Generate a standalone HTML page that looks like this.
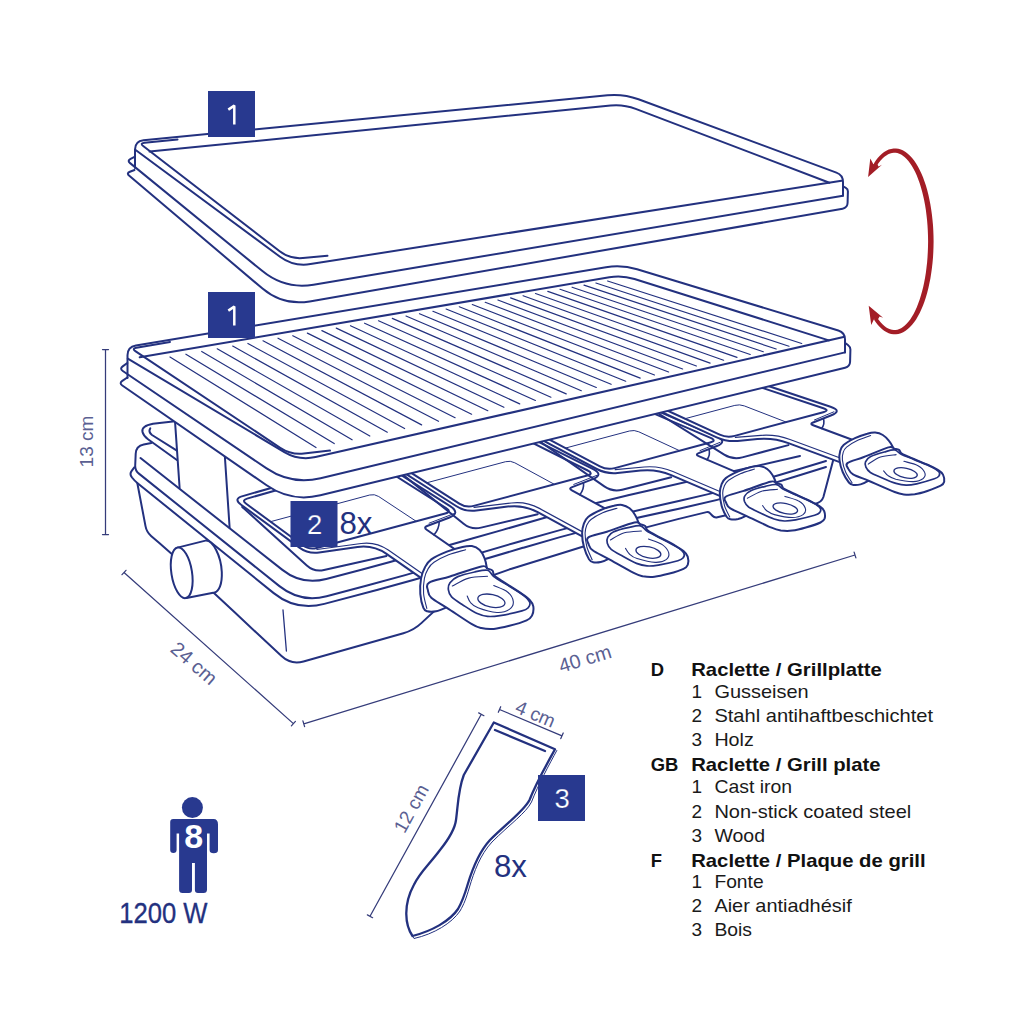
<!DOCTYPE html>
<html><head><meta charset="utf-8"><title>Raclette</title>
<style>
html,body{margin:0;padding:0;background:#fff;}
body{width:1024px;height:1024px;overflow:hidden;font-family:"Liberation Sans",sans-serif;}
svg{display:block;}
text{font-family:"Liberation Sans",sans-serif;}
</style></head><body>
<svg width="1024" height="1024" viewBox="0 0 1024 1024">
<rect x="0" y="0" width="1024" height="1024" fill="#ffffff"/>
<path d="M175,421.3 L153,423.7 Q141,426 142.5,432 Q143.5,436 148,439.2 L176.9,460" fill="none" stroke="#23317f" stroke-width="2.0" stroke-linecap="round" stroke-linejoin="round" />
<path d="M150.3,428.3 Q148,432 152,435 L176.9,450.6" fill="none" stroke="#23317f" stroke-width="2.0" stroke-linecap="round" stroke-linejoin="round" />
<path d="M175,421.3 L179.6,487.7" fill="none" stroke="#23317f" stroke-width="2.0" stroke-linecap="round" stroke-linejoin="round" />
<path d="M224.3,448 L229.6,527.5" fill="none" stroke="#23317f" stroke-width="2.0" stroke-linecap="round" stroke-linejoin="round" />
<path d="M140.5,458L282.4,569.9Q302,585.4 326.2,579L361.4,569.8Q389,562.5 416.4,554.5L416.4,554.5Q443.8,546.5 471.3,538.7L502.7,529.9Q534,521 565.2,511.8L565.2,511.8Q596.4,502.5 628.1,495.2L650,490.2Q700,478.8 750,467.4L800,456" fill="none" stroke="#23317f" stroke-width="2.0" stroke-linecap="round" stroke-linejoin="round" />
<path d="M151.4,443L143.7,444.5Q136,446 135.7,453.8L135.2,465.5Q135,470.5 138.9,473.6L279.4,586.1Q300.5,603 326.6,596.2L367.1,585.5Q406.5,575.2 445.4,563.4L446.7,563Q484.4,551.6 522.2,540.7L522.2,540.7Q560,529.7 598.2,520.1L600.7,519.4Q637.4,510.2 674.3,502L680.9,500.5Q711.3,493.8 741.3,485.6L743.9,485Q771.4,477.5 798.7,469.2L826,461" fill="none" stroke="#23317f" stroke-width="2.0" stroke-linecap="round" stroke-linejoin="round" />
<path d="M134.3,467.3L131.7,470.8Q129.3,474 131.8,477.2L132,477.5Q134.5,480.7 137.6,483.2L273.7,593.1Q296.3,611.3 324.3,603.9L377.8,589.7Q414.3,580 450.5,569.3L450.5,569.3Q486.7,558.6 522.9,547.8L523.4,547.7Q560,536.7 597.1,527.4L600.2,526.7Q638.8,517 677.8,508.9L688.7,506.6Q716.7,500.7 744,492.4L744.1,492.3Q771.4,484 798.7,475.5L826,467" fill="none" stroke="#23317f" stroke-width="2.0" stroke-linecap="round" stroke-linejoin="round" />
<path d="M137.4,483.5L145.5,526.1Q146.6,532 151.1,535.9L159.3,543Q172,554 184.3,565.4L193,573.5Q214,593 234.9,612.6L281.5,656.1Q291,665 303.5,661.5L403.4,633.2Q414,630.2 421.9,622.6L424,620.6Q434,611 444.8,602.3L447,600.5Q460,590 475.1,582.9L476.9,582.1Q493.8,574.2 511.6,568.7L526.9,564Q560,553.9 593,543.5L616.8,536.1Q647,526.6 677.8,519.1L706.6,512.1Q708.5,511.6 709.9,513.1L712.4,515.8Q714.5,518 717.4,517.3L740,512" fill="none" stroke="#23317f" stroke-width="2.0" stroke-linecap="round" stroke-linejoin="round" />
<path d="M283,610 L286.4,651" fill="none" stroke="#23317f" stroke-width="1.3" stroke-linecap="round" stroke-linejoin="round" />
<path d="M833.5,459 L823.4,497 Q821.5,503 814,504 L790,508" fill="none" stroke="#23317f" stroke-width="2.0" stroke-linecap="round" stroke-linejoin="round" />
<path d="M177.5,547.6 L205.5,540.6 C213,540 221,556 221.8,572 C222.3,584 219,591.5 214.5,592.5 L186.5,598 Z" fill="#fff" stroke="#23317f" stroke-width="2.0" stroke-linejoin="round"/>
<ellipse cx="181.7" cy="572.8" rx="10.3" ry="25.6" transform="rotate(-9 181.7 572.8)" fill="#fff" stroke="#23317f" stroke-width="2.0"/>
<path d="M242.2,506.9L306.8,565.4Q314.2,572.1 324,569.9L386.5,555.9" fill="none" stroke="#23317f" stroke-width="2.0" stroke-linecap="round" stroke-linejoin="round" />
<path d="M374.9,458.4L242.7,496.1Q233,498.8 241.1,504.7L299.4,547.6Q308.2,554.1 319.1,552.5L357.5,547Q373.4,544.8 386.5,553.9L434.9,587.6Q434.9,587.6 434.9,587.6L472.7,561.6Q472.7,561.6 472.7,561.6L426.7,529.7Q423.4,527.4 427.1,526L448.9,517.7Q461.1,513.1 450.1,506.1L374.9,458.4Z" fill="#fff" stroke="none"/>
<path d="M374.9,458.4L242.7,496.1Q233,498.8 241.1,504.7L299.4,547.6Q308.2,554.1 319.1,552.5L357.5,547Q373.4,544.8 386.5,553.9L434.9,587.6Q434.9,587.6 434.9,587.6L472.7,561.6Q472.7,561.6 472.7,561.6L426.7,529.7Q423.4,527.4 427.1,526L448.9,517.7Q461.1,513.1 450.1,506.1L374.9,458.4" fill="none" stroke="#23317f" stroke-width="2.0" stroke-linecap="round" stroke-linejoin="round" />
<path d="M374.3,462.4L247.1,498.6Q241.3,500.3 246.2,503.8L302.6,545.3Q309,550 316.7,548L445.2,513.5Q452,511.7 446.1,508L374.3,462.4" fill="none" stroke="#23317f" stroke-width="2.0" stroke-linecap="round" stroke-linejoin="round" />
<path d="M316.9,549.5L361.1,543.5Q376,541.5 388.3,550.1L437.5,584.3" fill="none" stroke="#23317f" stroke-width="1.2" stroke-linecap="round" stroke-linejoin="round" />
<path d="M439.2,521.7 Q439.2,528.7 434.1,534.8" fill="none" stroke="#23317f" stroke-width="1.6" stroke-linecap="round" stroke-linejoin="round" />
<path d="M454,513.6 L429.1,523.2" fill="none" stroke="#23317f" stroke-width="1.0" stroke-linecap="round" stroke-linejoin="round" />
<path d="M270.4,521.7L369.7,495Q374.5,493.8 378.7,496.5L416.2,521.3" fill="none" stroke="#23317f" stroke-width="1.0" stroke-linecap="round" stroke-linejoin="round" />
<path d="M394.4,467.9L463.6,523.7Q471.4,530 481.1,527.6L537.7,514.2" fill="none" stroke="#23317f" stroke-width="2.0" stroke-linecap="round" stroke-linejoin="round" />
<path d="M518.5,431.8L394.6,458.3Q384.8,460.4 393.3,465.8L456.1,506Q465.4,512 476.3,510.6L507.7,506.6Q523.6,504.5 537.7,512.2L589.5,540.4Q589.5,540.4 589.5,540.4L621.1,517.2Q621.1,517.2 621.1,517.2L571.9,490.4Q568.4,488.5 572.1,487.1L592.2,479.4Q604.4,474.7 592.7,468.9L518.5,431.8Z" fill="#fff" stroke="none"/>
<path d="M518.5,431.8L394.6,458.3Q384.8,460.4 393.3,465.8L456.1,506Q465.4,512 476.3,510.6L507.7,506.6Q523.6,504.5 537.7,512.2L589.5,540.4Q589.5,540.4 589.5,540.4L621.1,517.2Q621.1,517.2 621.1,517.2L571.9,490.4Q568.4,488.5 572.1,487.1L592.2,479.4Q604.4,474.7 592.7,468.9L518.5,431.8" fill="none" stroke="#23317f" stroke-width="2.0" stroke-linecap="round" stroke-linejoin="round" />
<path d="M518,435.6L400.3,460.9Q394.4,462.1 399.5,465.4L459.3,503.6Q466,508 473.7,505.9L587.2,475.5Q594,473.7 587.7,470.5L518,435.6" fill="none" stroke="#23317f" stroke-width="2.0" stroke-linecap="round" stroke-linejoin="round" />
<path d="M474.1,507.4L511.3,503Q526.2,501.2 539.4,508.4L592.1,537.1" fill="none" stroke="#23317f" stroke-width="1.2" stroke-linecap="round" stroke-linejoin="round" />
<path d="M583.5,483 Q584.2,489.4 579.8,494.7" fill="none" stroke="#23317f" stroke-width="1.6" stroke-linecap="round" stroke-linejoin="round" />
<path d="M596.7,475.4 L573.8,484.4" fill="none" stroke="#23317f" stroke-width="1.0" stroke-linecap="round" stroke-linejoin="round" />
<path d="M426.7,482.8L505.6,461.7Q510.4,460.4 514.8,462.8L554.3,484.3" fill="none" stroke="#23317f" stroke-width="1.0" stroke-linecap="round" stroke-linejoin="round" />
<path d="M531.3,435.5L604.3,486.4Q612.6,492.1 622.2,489.7L671.2,477.2" fill="none" stroke="#23317f" stroke-width="2.0" stroke-linecap="round" stroke-linejoin="round" />
<path d="M639.3,403.2L531,426.8Q521.2,428.9 530.1,433.6L596.8,469Q606.6,474.1 617.5,473L640.6,470.6Q656.5,468.9 671.2,475.2L725.5,498.3Q725.5,498.3 725.5,498.3L750.2,478.1Q750.2,478.1 750.2,478.1L698.7,456.2Q695,454.6 698.7,453.1L716.2,446.3Q728.3,441.5 716.3,436.4L639.3,403.2Z" fill="#fff" stroke="none"/>
<path d="M639.3,403.2L531,426.8Q521.2,428.9 530.1,433.6L596.8,469Q606.6,474.1 617.5,473L640.6,470.6Q656.5,468.9 671.2,475.2L725.5,498.3Q725.5,498.3 725.5,498.3L750.2,478.1Q750.2,478.1 750.2,478.1L698.7,456.2Q695,454.6 698.7,453.1L716.2,446.3Q728.3,441.5 716.3,436.4L639.3,403.2" fill="none" stroke="#23317f" stroke-width="2.0" stroke-linecap="round" stroke-linejoin="round" />
<path d="M638.9,407.1L537.8,429.1Q531.9,430.4 537.2,433.2L599.9,466.4Q607,470.2 614.7,468.1L710.2,442.5Q717,440.7 710.6,437.9L638.9,407.1" fill="none" stroke="#23317f" stroke-width="2.0" stroke-linecap="round" stroke-linejoin="round" />
<path d="M615.2,469.6L644.2,467Q659.1,465.6 672.9,471.5L728.1,495" fill="none" stroke="#23317f" stroke-width="1.2" stroke-linecap="round" stroke-linejoin="round" />
<path d="M709,449.4 Q710.5,455 707,459.7" fill="none" stroke="#23317f" stroke-width="1.6" stroke-linecap="round" stroke-linejoin="round" />
<path d="M720.1,442.3 L700,450.6" fill="none" stroke="#23317f" stroke-width="1.0" stroke-linecap="round" stroke-linejoin="round" />
<path d="M565.4,448.1L629.4,431Q634.2,429.7 638.8,431.8L679.6,450.7" fill="none" stroke="#23317f" stroke-width="1.0" stroke-linecap="round" stroke-linejoin="round" />
<path d="M648.1,407L724.2,454.6Q732.7,459.9 742.3,457.4L788.4,445.1" fill="none" stroke="#23317f" stroke-width="2.0" stroke-linecap="round" stroke-linejoin="round" />
<path d="M749.6,379.7L647.5,399.2Q637.7,401 646.8,405.2L716.7,437.3Q726.7,441.9 737.6,440.9L757.4,439.1Q773.4,437.6 788.4,443.1L843.7,463.6Q843.7,463.6 843.7,463.6L865.7,444.7Q865.7,444.7 865.7,444.7L813.2,425.3Q809.4,423.9 813.1,422.5L830.8,415.5Q842.9,410.8 830.5,406.7L749.6,379.7Z" fill="#fff" stroke="none"/>
<path d="M749.6,379.7L647.5,399.2Q637.7,401 646.8,405.2L716.7,437.3Q726.7,441.9 737.6,440.9L757.4,439.1Q773.4,437.6 788.4,443.1L843.7,463.6Q843.7,463.6 843.7,463.6L865.7,444.7Q865.7,444.7 865.7,444.7L813.2,425.3Q809.4,423.9 813.1,422.5L830.8,415.5Q842.9,410.8 830.5,406.7L749.6,379.7" fill="none" stroke="#23317f" stroke-width="2.0" stroke-linecap="round" stroke-linejoin="round" />
<path d="M749.4,383.6L655.7,401.4Q649.8,402.5 655.2,405L719.7,434.7Q727,438 734.7,435.9L823.2,412.2Q830,410.4 823.4,408.2L749.4,383.6" fill="none" stroke="#23317f" stroke-width="2.0" stroke-linecap="round" stroke-linejoin="round" />
<path d="M735.4,437.4L761,435.4Q776,434.3 790,439.5L846.3,460.3" fill="none" stroke="#23317f" stroke-width="1.2" stroke-linecap="round" stroke-linejoin="round" />
<path d="M823.5,418.7 Q825,424.1 821.6,428.4" fill="none" stroke="#23317f" stroke-width="1.6" stroke-linecap="round" stroke-linejoin="round" />
<path d="M833.9,411.8 L814.4,420" fill="none" stroke="#23317f" stroke-width="1.0" stroke-linecap="round" stroke-linejoin="round" />
<path d="M685,418.7L734.8,405.4Q739.6,404.1 744.3,405.9L786.2,422.1" fill="none" stroke="#23317f" stroke-width="1.0" stroke-linecap="round" stroke-linejoin="round" />
<path d="M135,168L135,149.6Q135,141.1 143.5,140.2L607.5,95.3Q623.5,93.8 638.5,99.3L836.4,172.6Q843,175 843,182L843,195.7" fill="none" stroke="#23317f" stroke-width="2.0" stroke-linecap="round" stroke-linejoin="round" />
<path d="M135.3,149.8L280,256.7Q293.7,266.8 310.5,264.1L841.5,180.8" fill="none" stroke="#23317f" stroke-width="2.0" stroke-linecap="round" stroke-linejoin="round" />
<path d="M177.5,139.4L144.5,142.7Q139.5,143.2 143.5,146.3L279.7,251.3Q290,259.2 302.9,258L327.5,255.8" fill="none" stroke="#23317f" stroke-width="2.0" stroke-linecap="round" stroke-linejoin="round" />
<path d="M149.6,151.6L610.6,105.5Q623.5,104.2 635.7,108.9L829.4,182.7" fill="none" stroke="#23317f" stroke-width="2.0" stroke-linecap="round" stroke-linejoin="round" />
<path d="M134.5,156.8L130.6,158.8Q127,160.6 130.1,163.1L262.4,271.1Q284.9,289.5 313.5,284.7L843,195.7" fill="none" stroke="#23317f" stroke-width="2.0" stroke-linecap="round" stroke-linejoin="round" />
<path d="M134.5,170L129.9,171.8Q126.2,173.2 129.3,175.8L262.5,288.6Q283.1,306 309.7,301.4L842.6,208.7Q847.5,207.8 847.6,202.8L847.9,191.6Q848,189 845.8,187.8L843.5,186.5" fill="none" stroke="#23317f" stroke-width="2.0" stroke-linecap="round" stroke-linejoin="round" />
<path d="M121.5,384.9Q119,383.2 119.7,380.3L126,353.2Q127.5,346.8 133.9,345.8L606,267.2Q621.8,264.6 637.1,269.3L838.3,330.5Q845,332.5 846,339.4L849.3,361.6Q850,366.5 845.1,367.7L320.4,495.3Q291.3,502.4 266.6,485.3Z" fill="#fff" stroke="none"/>
<path d="M127.5,378L127.5,355.3Q127.5,346.8 135.9,345.4L606,267.2Q621.8,264.6 637.1,269.3L838.3,330.5Q845,332.5 845,339.5L845,352.4" fill="none" stroke="#23317f" stroke-width="2.0" stroke-linecap="round" stroke-linejoin="round" />
<path d="M127.8,358.7L284.3,452.1Q298.9,460.8 315.5,457.1L843.5,337.1" fill="none" stroke="#23317f" stroke-width="2.0" stroke-linecap="round" stroke-linejoin="round" />
<path d="M170,342L136.4,347.7Q131.5,348.5 135.7,351.3L280.2,447.8Q291,455 303.9,453.5L330,450.6" fill="none" stroke="#23317f" stroke-width="2.0" stroke-linecap="round" stroke-linejoin="round" />
<path d="M139.7,357.3L609.3,277.2Q622.1,275 634.5,279L828.8,340.4" fill="none" stroke="#23317f" stroke-width="2.0" stroke-linecap="round" stroke-linejoin="round" />
<path d="M127.3,363L122.7,366.4Q119.5,368.8 122.8,371L266.6,468.4Q291.5,485.2 320.6,478.2L845,352.4" fill="none" stroke="#23317f" stroke-width="2.0" stroke-linecap="round" stroke-linejoin="round" />
<path d="M127.3,377.5L122.3,380.9Q119,383.2 122.3,385.5L266.6,485.3Q291.3,502.4 320.4,495.3L845.1,367.7Q850,366.5 850.1,361.5L850.4,349.8Q850.5,347 848.2,345.2L846,343.5" fill="none" stroke="#23317f" stroke-width="2.0" stroke-linecap="round" stroke-linejoin="round" />
<path d="M170,357L316,447.5M185.9,354.2L334.2,443.6M201.7,351.5L352.1,439.8M217.2,348.8L369.8,436M232.7,346.1L387.3,432.2M247.9,343.5L404.6,428.5M263,340.8L421.6,424.9M278,338.2L438.5,421.3M292.8,335.7L455.1,417.7M307.4,333.1L471.6,414.2M321.9,330.6L487.8,410.7M336.3,328.1L503.9,407.3M350.5,325.7L519.7,403.9M364.6,323.2L535.4,400.5M378.5,320.8L550.9,397.2M392.3,318.4L566.2,393.9M406,316L581.3,390.7M419.5,313.7L596.3,387.5M432.9,311.3L611.1,384.3M446.1,309L625.7,381.2M459.3,306.8L640.2,378.1M472.3,304.5L654.5,375M485.2,302.3L668.6,372M497.9,300L682.6,369M510.6,297.9L696.4,366M523.1,295.7L710.1,363.1M535.5,293.5L723.6,360.2M547.8,291.4L737,357.4M560,289.3L750.2,354.5M572.1,287.2L763.3,351.7M584,285.1L776.2,349M595.9,283L789,346.2M607.6,281L801.7,343.5" fill="none" stroke="#23317f" stroke-width="1.2" stroke-linecap="round" stroke-linejoin="round" />
<path d="M423.4,607.8C422.2,604.9 420.7,598.8 420.3,593.8C419.9,588.8 420.3,582.5 421.1,578.1C421.9,573.7 423.3,570.3 425,567.2C426.7,564.1 427.7,562 431.3,559.4C434.9,556.8 441.7,553.7 446.9,551.6C452.1,549.5 458.3,547.8 462.5,546.9C466.7,546 469,545.6 471.9,546.1C474.8,546.6 477.6,548 479.7,550C481.8,552 483.2,554.9 484.4,557.8C485.6,560.7 486.2,563.5 486.7,567.2C487.2,570.9 490.3,575.4 487.5,580C484.7,584.6 477,590.4 470,595C463,599.6 451,605.1 445.3,607.8C439.6,610.5 439,610.7 436,611.3C433,611.9 429.4,611.9 427.3,611.3C425.2,610.7 424.6,610.7 423.4,607.8Z" fill="#fff" stroke="#23317f" stroke-width="2.0" stroke-linejoin="round"/>
<path d="M426.8,608.5C426.3,606 424,598.8 423.6,593.8C423.2,588.8 423.6,582.5 424.4,578.3C425.2,574.1 426.6,571.3 428.2,568.6C429.8,565.9 430.6,564.6 434,562.3C437.4,560 443.3,556.9 448.6,554.8C453.9,552.7 462.8,550.6 465.6,549.7" fill="none" stroke="#23317f" stroke-width="1.1" stroke-linecap="round" stroke-linejoin="round" />
<path d="M428.9,582.8C432.6,580.4 441.3,579.2 450,576.5C458.7,573.8 475.1,567.7 481.3,566.4C487.6,565.1 485.6,567.9 487.5,568.6C489.4,569.3 491.4,569.5 492.5,570.6C493.6,571.7 492.8,573.7 494,575.2C495.2,576.7 495.4,576.6 500,579.7C504.6,582.8 516.9,590.4 521.9,593.8C526.9,597.2 527.8,597.9 529.7,600C531.6,602.1 532.9,603.7 533.3,606.3C533.7,608.9 533.1,613.3 532,615.6C530.9,617.9 530.4,618.6 526.6,620.3C522.8,622 514.9,624.4 509.4,625.8C503.9,627.2 498.5,628.5 493.8,628.9C489.1,629.3 485,628.9 481.3,628.1C477.6,627.3 477.6,627.6 471.9,624.2C466.2,620.8 453.7,612.2 446.9,607.8C440.1,603.4 434.4,600.6 431.3,597.7C428.2,594.8 428.4,593.1 428,590.6C427.6,588.1 425.2,585.1 428.9,582.8Z" fill="#fff" stroke="#23317f" stroke-width="2.0" stroke-linejoin="round"/>
<path d="M448.4,589.8C448.1,587.4 448.4,585 450,582.8C451.6,580.6 453.6,578.4 457.8,576.6C462,574.8 470.1,573 475,571.9C479.9,570.8 484.4,569.5 487.5,570.3C490.6,571.1 490.7,574.2 493.8,576.6C496.9,579 501.4,581.3 506.3,584.4C511.2,587.5 519.5,592.3 523.4,595.3C527.3,598.3 528.9,600.2 529.7,602.3C530.5,604.4 529.4,606.4 528.1,607.8C526.8,609.2 526.6,609.6 521.9,610.9C517.2,612.2 505.7,614.7 500,615.6C494.3,616.5 491.4,616.8 487.5,616.4C483.6,616 480.8,615.2 476.6,613.3C472.4,611.3 466.7,607.4 462.5,604.7C458.3,602 454,599.4 451.6,596.9C449.2,594.4 448.7,592.1 448.4,589.8Z" fill="none" stroke="#23317f" stroke-width="1.7" stroke-linecap="round" stroke-linejoin="round" />
<path d="M467.2,596C467.8,597.1 468.7,600.5 470.5,602.5C472.3,604.5 473.6,606.1 478,607.8C482.4,609.5 491.7,612.2 496.9,612.5C502.1,612.8 506.7,611.2 509.4,609.4C512.1,607.6 513.6,604.5 513.3,601.6C513,598.7 511.1,594.9 507.8,592.2C504.6,589.5 496.1,586.7 493.8,585.6" fill="none" stroke="#23317f" stroke-width="1.1" stroke-linecap="round" stroke-linejoin="round" />
<path d="M452.3,586C455.1,584.7 462.9,579.7 468.8,578.1C474.7,576.5 484.4,576.6 487.5,576.3" fill="none" stroke="#23317f" stroke-width="1.1" stroke-linecap="round" stroke-linejoin="round" />
<ellipse cx="491.4" cy="600.8" rx="13.8" ry="6.3" transform="rotate(12 491.4 600.8)" fill="none" stroke="#23317f" stroke-width="1.3"/>
<path d="M589,559.2C587.5,556.7 585.1,551.4 584,547.1C582.8,542.8 582.1,537.3 582.1,533.4C582.1,529.5 582.8,526.6 583.8,523.9C584.8,521.1 585.3,519.3 588.1,517C590.9,514.7 596.4,511.9 600.7,510C605,508.2 610.2,506.6 613.8,505.8C617.3,504.9 619.4,504.5 622,504.9C624.7,505.4 627.4,506.6 629.6,508.2C631.8,509.9 633.6,512.5 635.1,515C636.6,517.5 637.6,519.9 638.7,523.1C639.7,526.3 643.2,530.2 641.5,534.3C639.8,538.3 633.9,543.4 628.4,547.5C622.9,551.6 613.1,556.5 608.5,558.9C603.9,561.4 603.4,561.6 600.8,562.1C598.3,562.6 595,562.7 593.1,562.2C591.1,561.7 590.6,561.7 589,559.2Z" fill="#fff" stroke="#23317f" stroke-width="2.0" stroke-linejoin="round"/>
<path d="M592.2,559.8C591.3,557.6 588.1,551.4 586.9,547C585.7,542.6 585.1,537.2 585.1,533.5C585,529.9 585.9,527.4 586.8,525C587.8,522.7 588.3,521.5 591,519.5C593.6,517.5 598.4,514.7 602.7,512.8C607.1,510.9 614.6,508.9 617,508.2" fill="none" stroke="#23317f" stroke-width="1.1" stroke-linecap="round" stroke-linejoin="round" />
<path d="M588.4,537.4C591.4,535.3 599.3,534.1 606.9,531.7C614.6,529.2 628.7,523.7 634.3,522.5C639.9,521.3 638.5,523.7 640.3,524.3C642.1,524.9 644,525.1 645.2,526C646.3,527 645.8,528.7 647.2,530C648.6,531.3 648.6,531.2 653.4,533.8C658.1,536.5 670.5,543 675.5,545.8C680.5,548.7 681.5,549.4 683.5,551.1C685.6,552.9 687,554.3 687.7,556.6C688.4,558.8 688.5,562.6 687.8,564.7C687.1,566.7 686.7,567.3 683.5,568.8C680.3,570.4 673.3,572.5 668.5,573.8C663.6,575.1 658.8,576.3 654.5,576.7C650.3,577.1 646.4,576.8 642.9,576.2C639.5,575.5 639.5,575.8 633.7,572.9C628,570 615.3,562.7 608.4,558.9C601.6,555.2 596,552.8 592.7,550.3C589.4,547.9 589.4,546.3 588.6,544.2C587.9,542 585.3,539.5 588.4,537.4Z" fill="#fff" stroke="#23317f" stroke-width="2.0" stroke-linejoin="round"/>
<path d="M607.3,543.2C606.7,541.2 606.7,539.1 607.8,537.1C608.9,535.2 610.5,533.3 614.1,531.6C617.7,530 624.9,528.3 629.3,527.4C633.7,526.4 637.5,525.2 640.5,525.8C643.5,526.5 644,529.2 647.2,531.2C650.4,533.2 654.8,535.2 659.8,537.9C664.8,540.5 673.1,544.6 677.1,547.1C681.1,549.7 682.8,551.3 683.8,553.1C684.9,554.9 684.1,556.7 683.1,557.9C682.1,559.2 682,559.5 677.9,560.7C673.7,561.9 663.5,564.2 658.4,565.1C653.2,565.9 650.6,566.2 647,565.9C643.4,565.6 640.6,565 636.5,563.4C632.4,561.7 626.6,558.4 622.4,556C618.1,553.7 613.7,551.5 611.2,549.4C608.7,547.3 607.9,545.3 607.3,543.2Z" fill="none" stroke="#23317f" stroke-width="1.7" stroke-linecap="round" stroke-linejoin="round" />
<path d="M625.5,548.4C626.1,549.4 627.5,552.3 629.4,554C631.3,555.7 632.8,557.2 637.1,558.6C641.3,559.9 650.2,562.2 655.1,562.4C659.9,562.6 663.9,561.2 666.2,559.6C668.4,558 669.3,555.2 668.7,552.7C668,550.2 665.6,546.9 662.3,544.6C658.9,542.3 650.8,540 648.5,539" fill="none" stroke="#23317f" stroke-width="1.1" stroke-linecap="round" stroke-linejoin="round" />
<path d="M610.4,539.9C612.7,538.7 619.3,534.3 624.4,532.8C629.6,531.3 638.6,531.3 641.4,531" fill="none" stroke="#23317f" stroke-width="1.1" stroke-linecap="round" stroke-linejoin="round" />
<ellipse cx="648.4" cy="552.3" rx="12.7" ry="5.5" transform="rotate(12 648.4 552.3)" fill="none" stroke="#23317f" stroke-width="1.3"/>
<path d="M726.6,516.7C725.1,514.4 722.7,509.6 721.6,505.7C720.5,501.8 719.8,496.8 719.8,493.3C719.8,489.8 720.5,487.1 721.5,484.5C722.5,482 723,480.3 725.8,478.1C728.6,475.9 734,473.2 738.3,471.4C742.5,469.5 747.7,467.9 751.2,467C754.8,466.2 756.8,465.8 759.4,466C762,466.3 764.7,467.4 766.9,468.8C769,470.3 770.8,472.6 772.3,474.8C773.7,477 774.7,479.2 775.8,482.1C776.8,485 780.2,488.5 778.5,492.2C776.8,496 771,500.8 765.5,504.8C760.1,508.7 750.4,513.5 745.9,515.8C741.3,518.2 740.8,518.4 738.2,519C735.7,519.5 732.5,519.7 730.6,519.3C728.6,518.9 728.1,518.9 726.6,516.7Z" fill="#fff" stroke="#23317f" stroke-width="2.0" stroke-linejoin="round"/>
<path d="M729.7,517.1C728.8,515.2 725.7,509.6 724.5,505.6C723.4,501.7 722.7,496.7 722.7,493.3C722.7,490 723.6,487.7 724.5,485.5C725.5,483.4 726,482.3 728.6,480.3C731.3,478.4 736,475.7 740.3,473.8C744.6,472 752.1,469.9 754.4,469.1" fill="none" stroke="#23317f" stroke-width="1.1" stroke-linecap="round" stroke-linejoin="round" />
<path d="M725.7,496.7C728.6,494.7 736.3,493.4 743.7,490.9C751.1,488.4 764.9,483 770.3,481.7C775.7,480.4 774.5,482.7 776.3,483.2C778.1,483.7 780,483.8 781.2,484.6C782.3,485.4 781.9,487 783.3,488.2C784.7,489.3 784.8,489.2 789.5,491.5C794.2,493.8 806.7,499.3 811.7,501.8C816.8,504.3 817.8,504.8 819.8,506.4C821.9,507.9 823.4,509.2 824.2,511.2C824.9,513.2 825.2,516.7 824.6,518.6C823.9,520.5 823.6,521 820.5,522.5C817.4,524 810.5,526.2 805.8,527.5C801.1,528.9 796.4,530.1 792.2,530.6C788.1,531.1 784.2,530.9 780.8,530.5C777.4,530 777.4,530.2 771.6,527.7C765.9,525.3 753.1,519 746.2,515.8C739.3,512.5 733.7,510.5 730.4,508.4C727,506.3 727,504.9 726.2,502.9C725.4,501 722.8,498.7 725.7,496.7Z" fill="#fff" stroke="#23317f" stroke-width="2.0" stroke-linejoin="round"/>
<path d="M744.5,501.5C743.9,499.6 743.7,497.7 744.8,495.9C745.8,494.1 747.3,492.3 750.8,490.7C754.2,489.1 761.2,487.3 765.5,486.3C769.8,485.3 773.6,484.1 776.6,484.6C779.6,485.1 780.1,487.6 783.4,489.3C786.6,491 791,492.7 796,495C801,497.2 809.3,500.7 813.3,502.9C817.4,505.1 819.2,506.6 820.2,508.2C821.3,509.8 820.6,511.4 819.7,512.6C818.8,513.8 818.6,514.1 814.6,515.3C810.6,516.5 800.6,518.9 795.6,519.9C790.6,520.8 788,521.1 784.4,521C780.8,520.8 778.1,520.3 774,519C769.9,517.6 764,514.7 759.8,512.7C755.6,510.7 751.2,508.8 748.6,507C746.1,505.1 745.2,503.3 744.5,501.5Z" fill="none" stroke="#23317f" stroke-width="1.7" stroke-linecap="round" stroke-linejoin="round" />
<path d="M762.6,505.7C763.3,506.5 764.7,509.2 766.7,510.7C768.6,512.1 770.1,513.4 774.4,514.6C778.6,515.7 787.5,517.5 792.3,517.5C797,517.5 800.9,516.1 803.1,514.6C805.2,513.1 806,510.5 805.3,508.3C804.5,506 802.1,503 798.7,501.1C795.3,499.1 787.2,497.2 784.9,496.4" fill="none" stroke="#23317f" stroke-width="1.1" stroke-linecap="round" stroke-linejoin="round" />
<path d="M747.4,498.3C749.7,497.2 756,493 761,491.4C766,489.9 774.8,489.7 777.6,489.3" fill="none" stroke="#23317f" stroke-width="1.1" stroke-linecap="round" stroke-linejoin="round" />
<ellipse cx="785.3" cy="508.5" rx="12.5" ry="5" transform="rotate(12 785.3 508.5)" fill="none" stroke="#23317f" stroke-width="1.3"/>
<path d="M848.9,482.5C847.1,480.3 844.3,475.8 842.7,472C841.1,468.3 839.9,463.4 839.5,460C839,456.6 839.4,453.9 840.1,451.4C840.8,449 841.1,447.3 843.6,445.1C846.1,442.9 851.1,440.1 855,438.2C859,436.3 863.9,434.6 867.3,433.7C870.6,432.7 872.6,432.3 875.2,432.5C877.7,432.7 880.6,433.6 882.8,435C885.1,436.4 887.1,438.5 888.8,440.7C890.6,442.8 891.8,444.9 893.2,447.7C894.5,450.5 898.3,453.7 897,457.4C895.8,461.1 890.6,465.9 885.7,469.9C880.9,473.8 871.9,478.7 867.7,481.1C863.5,483.6 863,483.8 860.6,484.4C858.1,485 855.1,485.2 853.1,484.9C851.1,484.6 850.6,484.6 848.9,482.5Z" fill="#fff" stroke="#23317f" stroke-width="2.0" stroke-linejoin="round"/>
<path d="M852,482.8C850.9,481 847.1,475.6 845.5,471.8C843.9,468 842.7,463.2 842.4,459.9C842,456.7 842.5,454.4 843.2,452.3C843.9,450.2 844.3,449.1 846.6,447.2C849,445.2 853.3,442.5 857.3,440.6C861.3,438.6 868.4,436.5 870.6,435.6" fill="none" stroke="#23317f" stroke-width="1.1" stroke-linecap="round" stroke-linejoin="round" />
<path d="M847.4,463.1C849.9,461.1 857.1,459.6 863.9,457C870.7,454.4 883.3,448.8 888.3,447.4C893.4,446 892.4,448.3 894.2,448.7C896,449.1 897.8,449.1 899,449.9C900.2,450.7 900,452.3 901.4,453.3C902.9,454.4 902.9,454.3 907.7,456.4C912.5,458.5 925,463.5 930.1,465.8C935.2,468.1 936.2,468.6 938.3,470.1C940.5,471.5 942,472.7 943,474.6C944,476.6 944.6,480 944.2,481.8C943.8,483.6 943.6,484.2 940.7,485.7C937.9,487.2 931.7,489.5 927.3,491C923,492.4 918.6,493.7 914.7,494.3C910.8,494.8 907.1,494.8 903.7,494.4C900.4,494 900.5,494.2 894.7,492C888.9,489.8 876,484 869.1,481C862.2,478.1 856.6,476.3 853.1,474.3C849.7,472.3 849.5,471 848.5,469.1C847.6,467.2 844.8,465.1 847.4,463.1Z" fill="#fff" stroke="#23317f" stroke-width="2.0" stroke-linejoin="round"/>
<path d="M865.9,467.2C865.1,465.5 864.7,463.6 865.5,461.8C866.3,460 867.5,458.2 870.7,456.6C873.8,455 880.3,453.1 884.3,452C888.3,450.9 891.7,449.6 894.6,450C897.5,450.4 898.3,452.8 901.6,454.4C904.9,456 909.3,457.5 914.3,459.6C919.3,461.7 927.6,464.8 931.7,466.9C935.8,468.9 937.7,470.3 938.9,471.8C940.1,473.3 939.7,474.9 938.9,476.1C938.2,477.3 938.1,477.6 934.4,478.8C930.7,480.1 921.4,482.7 916.7,483.8C912,484.8 909.6,485.2 906.1,485.1C902.7,485.1 900.1,484.7 896,483.4C891.9,482.2 886,479.6 881.7,477.7C877.5,475.9 873,474.2 870.4,472.5C867.8,470.7 866.7,469 865.9,467.2Z" fill="none" stroke="#23317f" stroke-width="1.7" stroke-linecap="round" stroke-linejoin="round" />
<path d="M883.6,470.8C884.3,471.6 886,474.2 888.1,475.6C890.1,477 891.6,478.1 895.8,479.2C900,480.2 908.7,481.7 913.3,481.6C917.8,481.5 921.3,480 923.2,478.5C925.1,476.9 925.6,474.4 924.6,472.3C923.7,470.1 921,467.3 917.6,465.4C914.1,463.6 906.1,462 903.9,461.3" fill="none" stroke="#23317f" stroke-width="1.1" stroke-linecap="round" stroke-linejoin="round" />
<path d="M868.3,464.1C870.3,462.9 875.8,458.7 880.5,457.1C885.1,455.5 893.5,455 896.1,454.6" fill="none" stroke="#23317f" stroke-width="1.1" stroke-linecap="round" stroke-linejoin="round" />
<ellipse cx="905.6" cy="473" rx="11.9" ry="4.8" transform="rotate(12 905.6 473)" fill="none" stroke="#23317f" stroke-width="1.3"/>
<path d="M873.9,163.4L875.8,160.6L877.7,158L879.8,155.8L881.9,153.8L884.1,152.1L886.3,150.7L888.7,149.6L891.1,148.9L893.5,148.5L896,148.5L898.4,148.8L900.9,149.5L903.2,150.6L905.6,152L907.8,153.7L910,155.7L912.1,158L914.1,160.6L916.1,163.4L917.9,166.5L919.7,169.9L921.4,173.5L923,177.3L924.5,181.4L925.9,185.6L927.2,190.1L928.4,194.7L929.4,199.5L930.4,204.4L931.2,209.5L931.9,214.6L932.5,219.9L933,225.2L933.3,230.6L933.5,236L933.6,241.4L933.5,246.8L933.3,252.2L933,257.6L932.5,262.9L931.9,268.2L931.2,273.3L930.4,278.4L929.4,283.3L928.4,288.1L927.2,292.7L925.9,297.2L924.5,301.4L923,305.5L921.4,309.3L919.7,312.9L917.9,316.3L916.1,319.4L914.1,322.2L912.1,324.8L910,327.1L907.8,329.1L905.6,330.8L903.2,332.2L900.9,333.3L898.4,334L896,334.3L893.5,334.3L891.1,333.9L888.7,333.2L886.3,332.1L884.1,330.7L881.9,329L879.8,327L877.7,324.8L875.8,322.2L873.9,319.4L876.9,317.4L878.8,320L880.6,322.3L882.5,324.3L884.4,326L886.3,327.4L888.2,328.5L890.1,329.3L892,329.8L893.8,330L895.6,330L897.4,329.7L899.3,329.1L901.1,328.2L902.9,327L904.8,325.6L906.6,323.8L908.4,321.7L910.2,319.4L911.9,316.8L913.6,313.9L915.2,310.7L916.8,307.3L918.2,303.6L919.6,299.7L920.9,295.6L922.1,291.3L923.2,286.9L924.2,282.2L925.1,277.5L925.9,272.6L926.5,267.5L927.1,262.4L927.5,257.2L927.8,252L928,246.7L928.1,241.4L928,236.1L927.8,230.8L927.5,225.6L927.1,220.4L926.5,215.3L925.9,210.2L925.1,205.3L924.2,200.6L923.2,195.9L922.1,191.5L920.9,187.2L919.6,183.1L918.2,179.2L916.8,175.5L915.2,172.1L913.6,168.9L911.9,166L910.2,163.4L908.4,161.1L906.6,159L904.8,157.2L902.9,155.8L901.1,154.6L899.3,153.7L897.4,153.1L895.6,152.8L893.8,152.8L892,153L890.1,153.5L888.2,154.3L886.3,155.4L884.4,156.8L882.5,158.5L880.6,160.5L878.8,162.8L876.9,165.4Z" fill="#a31d26"/>
<path d="M868.1,177 L870.3,158.4 L873.4,164.2 L876,162 L878.6,166.4 L882,164.7 Z" fill="#a31d26"/>
<path d="M868.7,305.7 L871.2,325 L874.2,318.8 L877,321 L879.6,316.6 L883.1,317.8 Z" fill="#a31d26"/>
<path d="M105.5,349.5L105.5,534.5M108.5,349.5L102.5,349.5M108.5,534.5L102.5,534.5" fill="none" stroke="#353c7a" stroke-width="1.25" stroke-linecap="round" stroke-linejoin="round" />
<path d="M124,572.5L293.4,723.6M126,570.3L122,574.7M295.4,721.4L291.4,725.8" fill="none" stroke="#353c7a" stroke-width="1.25" stroke-linecap="round" stroke-linejoin="round" />
<path d="M303.8,723.8L855,555M302.9,720.9L304.6,726.6M854.1,552.1L855.9,557.9" fill="none" stroke="#353c7a" stroke-width="1.25" stroke-linecap="round" stroke-linejoin="round" />
<path d="M481.3,714.3L370,916.3M483.9,715.7L478.7,712.9M372.6,917.7L367.4,914.9" fill="none" stroke="#353c7a" stroke-width="1.25" stroke-linecap="round" stroke-linejoin="round" />
<path d="M499.5,709.5L562,735.8M500.7,706.7L498.3,712.3M563.2,733L560.8,738.6" fill="none" stroke="#353c7a" stroke-width="1.25" stroke-linecap="round" stroke-linejoin="round" />
<text transform="translate(93,441.5) rotate(-90)" font-size="19" fill="#5a6092" text-anchor="middle">13 cm</text>
<text transform="translate(189.5,668.5) rotate(41)" font-size="19.8" fill="#5a6092" text-anchor="middle">24 cm</text>
<text transform="translate(587,665.2) rotate(-17)" font-size="19.8" fill="#5a6092" text-anchor="middle">40 cm</text>
<text transform="translate(417,811.5) rotate(-61)" font-size="19" fill="#5a6092" text-anchor="middle">12 cm</text>
<text transform="translate(533,720) rotate(23)" font-size="19" fill="#5a6092" text-anchor="middle">4 cm</text>
<circle cx="192.4" cy="807.6" r="10.5" fill="#28398f"/>
<path d="M173.2,819 H213.5 Q218,819 218,824.5 V850 Q218,853.3 213.8,853.3 Q209.6,853.3 209.6,850 V833.5 H207 V889.5 Q207,893 203.5,893 H198 Q194.9,893 194.9,890 V863 H192 V890 Q192,893 189,893 H182.5 Q179.1,893 179.1,889.5 V833.5 H176.6 V850 Q176.6,853 173.4,853 Q170.2,853 170.2,850 V822 Q170.2,819 173.2,819 Z" fill="#28398f"/>
<text x="193.7" y="848.4" font-size="34" font-weight="bold" fill="#fff" text-anchor="middle">8</text>
<text x="119.2" y="922.6" font-size="30" fill="#23317f" stroke="#23317f" stroke-width="0.35" textLength="88.2" lengthAdjust="spacingAndGlyphs">1200 W</text>
<path d="M493.8,722.5 L555,749.3 C547.5,763 536.5,782 529.5,800 C524,811 508,822 490,840 C478,853 472,870 467.5,885 C464,897 462,902 458,909 C450,921 432,931 412.5,936 C405,925 403,905 413.8,885 C420,872 428,866 440,850 C448,840 455,828 456,820 C458,806 458,790 463.8,775 Z" fill="none" stroke="#23317f" stroke-width="2.3" stroke-linecap="round" stroke-linejoin="round" />
<path d="M556.8,750.5 C549.3,764.5 538.5,784 531.5,802 C526,813 510,824 492,842 C480,855 474,872 469.5,887 C466,899 464,904 460,911 C452,923 434,934 414,938.5 L412.5,936" fill="none" stroke="#23317f" stroke-width="1.0" stroke-linecap="round" stroke-linejoin="round" />
<path d="M495,730 L545,751" fill="none" stroke="#23317f" stroke-width="2.3" stroke-linecap="round" stroke-linejoin="round" />
<text x="494" y="877" font-size="31.5" fill="#23317f" textLength="33" lengthAdjust="spacingAndGlyphs">8x</text>
<text x="339.5" y="534.3" font-size="31.5" fill="#23317f" textLength="33" lengthAdjust="spacingAndGlyphs">8x</text>
<text x="650.8" y="675.6" font-size="18.4" font-weight="bold" fill="#111">D</text>
<text x="691.2" y="675.6" font-size="18.4" font-weight="bold" fill="#111" textLength="190.6" lengthAdjust="spacingAndGlyphs">Raclette / Grillplatte</text>
<text x="691.6" y="697.6" font-size="19" fill="#1a1a1a">1</text>
<text x="714.4" y="697.6" font-size="19" fill="#1a1a1a" textLength="94.3" lengthAdjust="spacingAndGlyphs">Gusseisen</text>
<text x="691.6" y="722.2" font-size="19" fill="#1a1a1a">2</text>
<text x="714.4" y="722.2" font-size="19" fill="#1a1a1a" textLength="218.7" lengthAdjust="spacingAndGlyphs">Stahl antihaftbeschichtet</text>
<text x="691.6" y="746.4" font-size="19" fill="#1a1a1a">3</text>
<text x="714.4" y="746.4" font-size="19" fill="#1a1a1a" textLength="39.4" lengthAdjust="spacingAndGlyphs">Holz</text>
<text x="650.8" y="771.3" font-size="18.4" font-weight="bold" fill="#111">GB</text>
<text x="691.2" y="771.3" font-size="18.4" font-weight="bold" fill="#111" textLength="189.3" lengthAdjust="spacingAndGlyphs">Raclette / Grill plate</text>
<text x="691.6" y="793" font-size="19" fill="#1a1a1a">1</text>
<text x="714.4" y="793" font-size="19" fill="#1a1a1a" textLength="77.7" lengthAdjust="spacingAndGlyphs">Cast iron</text>
<text x="691.6" y="817.5" font-size="19" fill="#1a1a1a">2</text>
<text x="714.4" y="817.5" font-size="19" fill="#1a1a1a" textLength="196.9" lengthAdjust="spacingAndGlyphs">Non-stick coated steel</text>
<text x="691.6" y="841.8" font-size="19" fill="#1a1a1a">3</text>
<text x="714.4" y="841.8" font-size="19" fill="#1a1a1a" textLength="50.6" lengthAdjust="spacingAndGlyphs">Wood</text>
<text x="650.8" y="866.7" font-size="18.4" font-weight="bold" fill="#111">F</text>
<text x="691.2" y="866.7" font-size="18.4" font-weight="bold" fill="#111" textLength="234.4" lengthAdjust="spacingAndGlyphs">Raclette / Plaque de grill</text>
<text x="691.6" y="887.6" font-size="19" fill="#1a1a1a">1</text>
<text x="714.4" y="887.6" font-size="19" fill="#1a1a1a" textLength="49.2" lengthAdjust="spacingAndGlyphs">Fonte</text>
<text x="691.6" y="912.2" font-size="19" fill="#1a1a1a">2</text>
<text x="714.4" y="912.2" font-size="19" fill="#1a1a1a" textLength="137.3" lengthAdjust="spacingAndGlyphs">Aier antiadhésif</text>
<text x="691.6" y="936.4" font-size="19" fill="#1a1a1a">3</text>
<text x="714.4" y="936.4" font-size="19" fill="#1a1a1a" textLength="37.6" lengthAdjust="spacingAndGlyphs">Bois</text>
<rect x="208" y="91" width="47" height="46" fill="#28398f"/>
<path d="M228.3,109.6 L234.3,105.6 L234.3,124.4" fill="none" stroke="#fff" stroke-width="2.5" stroke-linejoin="bevel"/>
<rect x="208" y="292" width="47" height="46" fill="#28398f"/>
<path d="M228.3,310.6 L234.3,306.6 L234.3,325.4" fill="none" stroke="#fff" stroke-width="2.5" stroke-linejoin="bevel"/>
<rect x="290.5" y="501" width="47" height="46" fill="#28398f"/>
<text x="314.7" y="533.5" font-size="27.5" fill="#fff" text-anchor="middle" stroke="#28398f" stroke-width="0.25">2</text>
<rect x="538" y="775" width="47" height="46" fill="#28398f"/>
<text x="562.2" y="807.5" font-size="27.5" fill="#fff" text-anchor="middle" stroke="#28398f" stroke-width="0.25">3</text>
</svg>
</body></html>
